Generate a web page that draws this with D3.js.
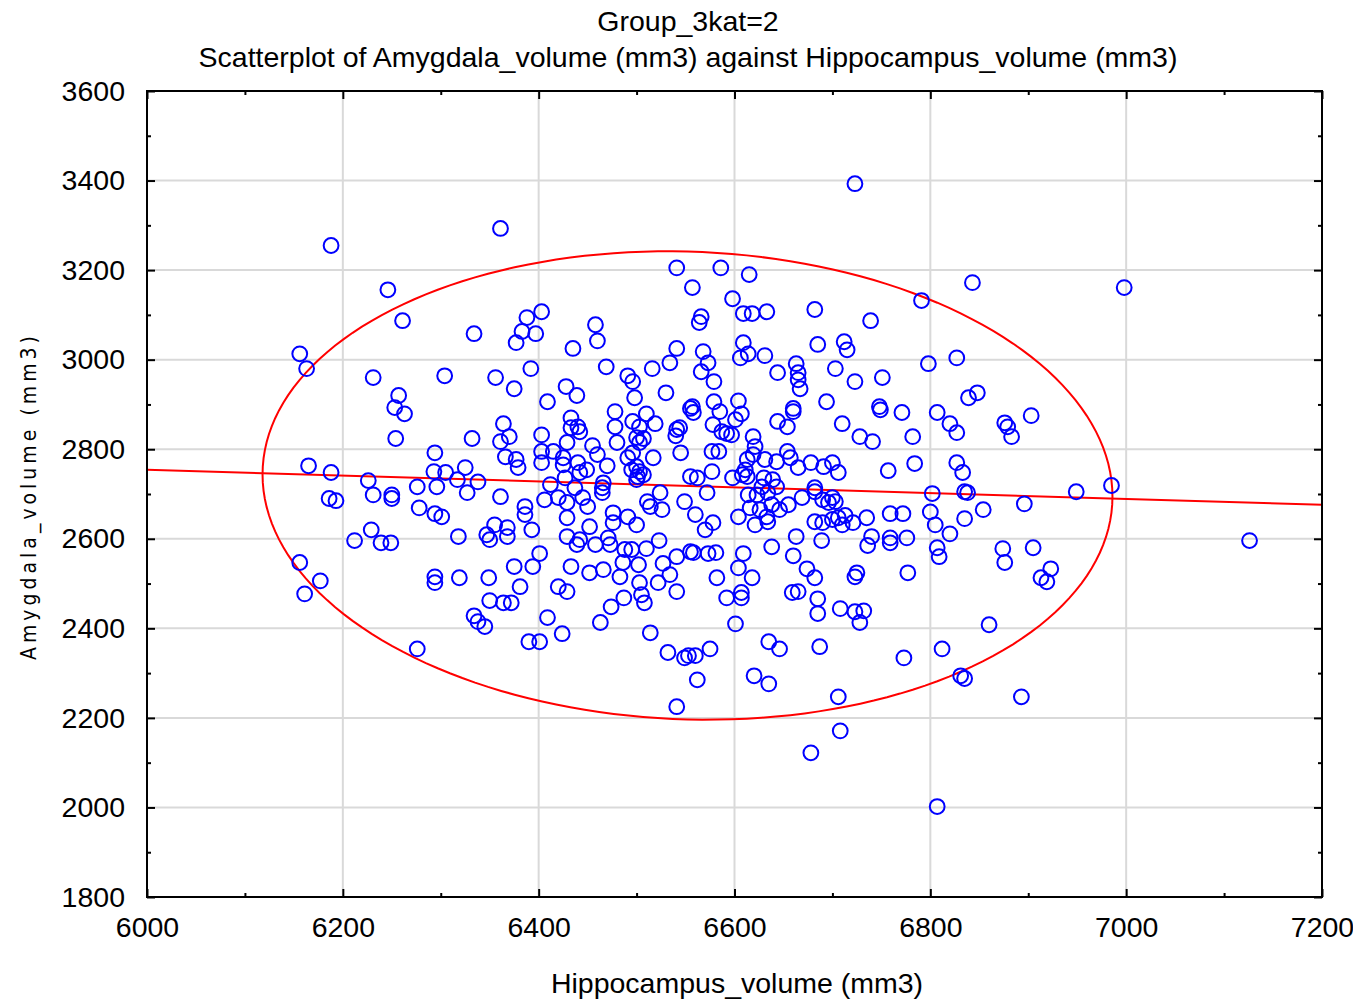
<!DOCTYPE html>
<html><head><meta charset="utf-8">
<script src="https://cdn.jsdelivr.net/npm/d3@7"></script>
<style>body{margin:0;background:#fff}svg{display:block}text{font-family:'Liberation Sans',Arial,sans-serif;fill:#000}</style>
</head><body><svg id="c" width="1353" height="1001"></svg>
<script>
const titleLines = ["Group_3kat=2", "Scatterplot of Amygdala_volume (mm3) against Hippocampus_volume (mm3)"];
const xLabel = "Hippocampus_volume (mm3)";
const yLabel = "Amygdala_volume (mm3)";
const xTicks = [6000, 6200, 6400, 6600, 6800, 7000, 7200];
const yTicks = [1800, 2000, 2200, 2400, 2600, 2800, 3000, 3200, 3400, 3600];
const xMinor = [6100, 6300, 6500, 6700, 6900, 7100];
const yMinor = [1900, 2100, 2300, 2500, 2700, 2900, 3100, 3300, 3500];

const hippocampus = [
6188,6246,6261,6156,6163,6231,6257,6253,6263,
6165,6188,6186,6193,6226,6231,6250,6250,6276,6278,6294,6293,6296,6294,6301,6305,6254,6212,6229,6239,6249,6156,6177,6294,6294,6161,
6276,
6361,6541,6586,6557,6598,6334,6388,6403,6383,6397,6377,6435,6458,6460,6566,6564,6541,6568,6304,6356,6375,6392,6409,6428,6439,6469,6491,6496,6498,6516,6534,6530,6566,6573,6579,6579,6557,6555,
6723,6615,6843,6791,6609,6618,6633,6682,6739,6609,6606,6614,6631,6685,6712,6715,6798,6827,6663,6665,6665,6667,6644,6703,6723,6751,6694,6660,6748,6604,6839,6848,
6998,
6364,6433,6433,6440,6442,6478,6478,6496,6503,6510,6519,6541,6544,6558,6585,6578,6587,6592,6597,
6332,6361,6370,6403,6429,6455,6460,6480,6500,6507,6503,6540,6545,6577,6584,
6366,6377,6379,6403,6403,6415,6425,6425,6440,6449,6442,6470,6491,6496,6517,6500,6503,6495,6507,6501,6555,6562,6577,6598,6317,6325,6338,
6412,6427,6437,6466,6465,6465,6500,6327,6361,6406,6420,6429,6445,6450,6511,6514,6524,6526,6549,6560,6572,6386,6386,
6429,6452,6476,6476,6491,6500,6578,6570,6393,6355,6368,6347,6350,6368,6318,
6429,6442,6439,6458,6471,6473,6488,6495,6510,6523,6541,6555,6558,6573,6581,6401,
6375,6394,6433,6452,6466,6483,6486,6502,6527,6534,6582,6319,6349,6381,6420,6503,6522,
6350,6364,6372,6429,6334,6338,6345,6409,6424,6390,6401,6463,6474,6487,6505,6508,6541,6514,6532,6549,6553,6560,6575,6562,6541,6592,
6607,6601,6644,6654,6660,6710,6728,6741,6749,6771,6782,6807,6820,6827,6876,6879,6883,6903,
6619,6621,6619,6613,6631,6643,6654,6657,6665,6678,6691,6700,6706,6757,6784,6827,6833,
6611,6613,6608,6630,6639,6643,6628,6614,6623,6634,6682,6682,6669,6690,6700,6703,6696,6802,6835,6838,6896,6604,
6616,6626,6638,6646,6655,6633,6621,6634,6682,6690,6700,6706,6713,6710,6721,6735,6759,6772,6800,6805,6820,6835,6854,
6663,6689,6740,6736,6759,6759,6776,6807,6809,6874,6876,6609,6638,6660,
6604,6618,6674,6682,6725,6723,6777,
6949,6985,7126,6905,6923,6913,6919,
6607,6607,6659,6665,6685,6685,6708,6723,6732,6728,6601,6635,6646,6687,6773,6812,6860,6620,6635,6706,6831,6835,6893,6708,6678,6807
];
const amygdala = [
3255,3156,3087,3013,2980,2960,2920,2893,2879,
2763,2748,2690,2685,2730,2698,2698,2690,2716,2669,2792,2750,2716,2656,2649,2748,2824,2596,2620,2591,2591,2547,2506,2515,2502,2477,
2354,
3293,3205,3205,3161,3136,3058,3094,3107,3063,3058,3038,3025,3078,3042,3096,3083,3025,3018,2964,2960,2935,2980,2906,2940,2920,2984,2964,2951,2915,2980,2993,2926,2973,2993,2951,2906,2895,2891,
3393,3190,3172,3132,3103,3103,3107,3112,3087,3038,3004,3013,3009,3034,3040,3022,2991,3004,2991,2971,2955,2935,2971,2980,2951,2960,2906,2891,2895,2908,2915,2926,
3161,
2857,2870,2848,2850,2839,2884,2850,2862,2850,2879,2857,2844,2848,2882,2884,2855,2839,2835,2832,
2824,2817,2828,2832,2815,2808,2788,2815,2826,2824,2815,2830,2792,2795,2795,
2783,2777,2759,2795,2770,2795,2781,2765,2770,2754,2748,2763,2781,2792,2781,2761,2750,2754,2743,2739,2739,2736,2750,2736,2732,2759,2727,
2721,2736,2714,2725,2714,2703,2732,2703,2694,2687,2692,2681,2692,2672,2683,2672,2703,2665,2683,2654,2703,2672,2654,
2647,2627,2658,2636,2649,2631,2636,2620,2620,2631,2625,2609,2598,2605,2605,
2605,2598,2587,2587,2602,2587,2576,2576,2578,2596,2560,2571,2569,2567,2569,2567,
2538,2538,2538,2524,2531,2515,2547,2542,2545,2520,2513,2513,2513,2493,2493,2502,2502,
2462,2457,2457,2482,2428,2415,2404,2424,2388,2370,2370,2413,2448,2468,2475,2457,2482,2390,2346,2334,2339,2339,2354,2285,2225,2468,
2879,2866,2862,2850,2884,2857,2828,2817,2888,2882,2828,2882,2857,2837,2859,2850,2828,2875,
2828,2806,2788,2777,2777,2772,2795,2781,2759,2770,2761,2770,2748,2752,2768,2770,2748,
2754,2739,2743,2736,2732,2716,2716,2698,2698,2703,2714,2705,2692,2687,2692,2683,2681,2701,2705,2703,2678,2649,
2669,2665,2676,2665,2676,2649,2631,2638,2638,2636,2643,2647,2652,2631,2636,2647,2656,2656,2660,2631,2611,2645,2665,
2605,2596,2605,2585,2602,2591,2602,2580,2560,2578,2547,2567,2582,2562,
2535,2513,2533,2513,2524,2515,2524,
2705,2719,2596,2580,2533,2513,2504,
2480,2468,2480,2482,2466,2433,2444,2437,2439,2413,2410,2370,2354,2359,2334,2354,2408,2294,2276,2247,2294,2288,2247,2171,2122,2002
];
const fitLine = [[6000, 2754], [7200, 2676]];
const ellipseCenter = [6552, 2719];
const ellipseRadius = [434, 523];
const ellipseCorr = -0.047;

const L = 147, R = 1322, T = 91, B = 897;
const svg = d3.select("#c");
const x = d3.scaleLinear().domain([6000, 7200]).range([L, R]);
const y = d3.scaleLinear().domain([1800, 3600]).range([B, T]);

// grid
const grid = svg.append("g");
grid.selectAll(".gx").data(xTicks.slice(1, -1)).join("line")
  .attr("x1", d => x(d)).attr("x2", d => x(d)).attr("y1", T).attr("y2", B)
  .attr("stroke", "#d9d9d9").attr("stroke-width", 2);
grid.selectAll(".gy").data(yTicks.slice(1, -1)).join("line")
  .attr("y1", d => y(d)).attr("y2", d => y(d)).attr("x1", L).attr("x2", R)
  .attr("stroke", "#d9d9d9").attr("stroke-width", 2);

svg.append("clipPath").attr("id", "clip").append("rect")
  .attr("x", L).attr("y", T).attr("width", R - L).attr("height", B - T);
const plot = svg.append("g").attr("clip-path", "url(#clip)");

// confidence ellipse
const ts = d3.range(0, 361, 2).map(a => a * Math.PI / 180);
const ell = ts.map(t => [
  ellipseCenter[0] + ellipseRadius[0] * Math.cos(t),
  ellipseCenter[1] + ellipseRadius[1] * (ellipseCorr * Math.cos(t) + Math.sqrt(1 - ellipseCorr * ellipseCorr) * Math.sin(t))
]);
const line = d3.line().x(d => x(d[0])).y(d => y(d[1]));
plot.append("path").attr("d", line(ell)).attr("fill", "none").attr("stroke", "#ff0000").attr("stroke-width", 2);
plot.append("path").attr("d", line(fitLine)).attr("fill", "none").attr("stroke", "#ff0000").attr("stroke-width", 2);

// points
const pts = hippocampus.map((h, i) => [h, amygdala[i]]);
plot.selectAll("circle").data(pts).join("circle")
  .attr("cx", d => x(d[0])).attr("cy", d => y(d[1])).attr("r", 7.4)
  .attr("fill", "none").attr("stroke", "#0000ff").attr("stroke-width", 2);

// axes
const fs = 28.5;
function styleAxis(g) { g.select(".domain").remove(); g.selectAll("line").attr("stroke", "#000").attr("stroke-width", 2); g.selectAll("text").attr("font-size", fs).attr("font-family", "'Liberation Sans',Arial,sans-serif").attr("fill", "#000"); }
svg.append("g").attr("transform", `translate(0,${B})`).call(d3.axisBottom(x).tickValues(xTicks).tickFormat(d3.format("d")).tickSize(-8).tickPadding(20)).call(styleAxis);
svg.append("g").attr("transform", `translate(0,${B})`).call(d3.axisBottom(x).tickValues(xMinor).tickFormat("").tickSize(-4)).call(styleAxis);
svg.append("g").attr("transform", `translate(0,${T})`).call(d3.axisTop(x).tickValues(xTicks).tickFormat("").tickSize(-8)).call(styleAxis);
svg.append("g").attr("transform", `translate(0,${T})`).call(d3.axisTop(x).tickValues(xMinor).tickFormat("").tickSize(-4)).call(styleAxis);
svg.append("g").attr("transform", `translate(${L},0)`).call(d3.axisLeft(y).tickValues(yTicks).tickFormat(d3.format("d")).tickSize(-8).tickPadding(22)).call(styleAxis);
svg.append("g").attr("transform", `translate(${L},0)`).call(d3.axisLeft(y).tickValues(yMinor).tickFormat("").tickSize(-4)).call(styleAxis);
svg.append("g").attr("transform", `translate(${R},0)`).call(d3.axisRight(y).tickValues(yTicks).tickFormat("").tickSize(-8)).call(styleAxis);
svg.append("g").attr("transform", `translate(${R},0)`).call(d3.axisRight(y).tickValues(yMinor).tickFormat("").tickSize(-4)).call(styleAxis);

svg.append("rect").attr("x", L).attr("y", T).attr("width", R - L).attr("height", B - T)
  .attr("fill", "none").attr("stroke", "#000").attr("stroke-width", 2);

// titles
svg.append("text").attr("x", 688).attr("y", 31).attr("text-anchor", "middle").attr("font-size", fs).text(titleLines[0]);
svg.append("text").attr("x", 688).attr("y", 67).attr("text-anchor", "middle").attr("font-size", fs).text(titleLines[1]);
svg.append("text").attr("x", 737).attr("y", 993).attr("text-anchor", "middle").attr("font-size", fs).text(xLabel);
svg.append("text").attr("transform", `translate(36,496) rotate(-90)`).attr("text-anchor", "middle")
  .attr("font-size", 21).attr("letter-spacing", "4px").style("font-family", "'DejaVu Sans Condensed','Liberation Sans',sans-serif").text(yLabel);
</script></body></html>
